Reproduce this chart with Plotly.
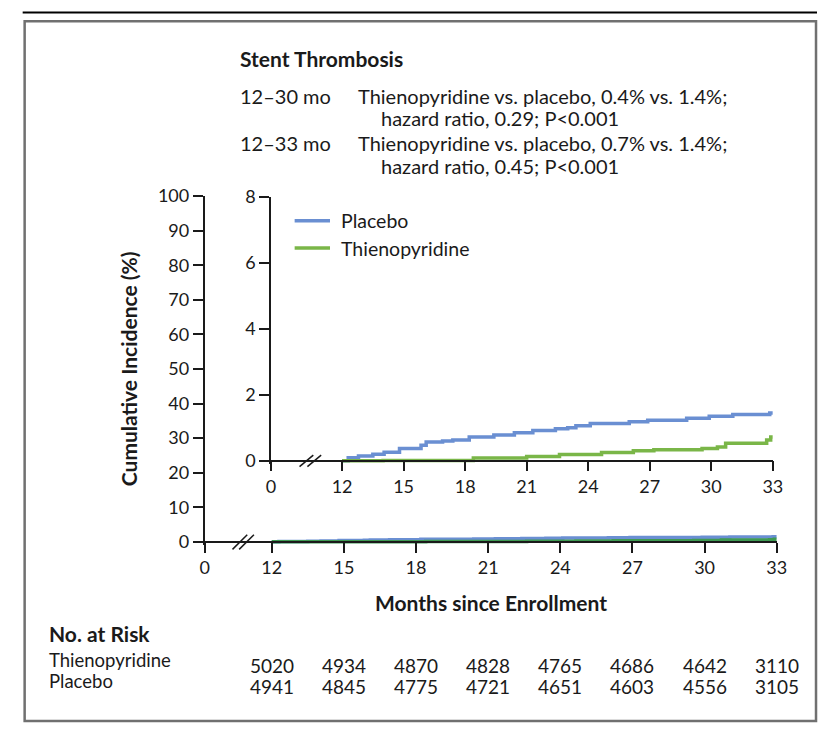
import plotly.graph_objects as go

W, H = 827, 731
FONT = "Lato"

# ---------------- data ----------------
placebo_t = [12.0, 12.3, 12.8, 13.5, 14.05, 14.8, 15.85, 16.1, 16.9, 17.4, 18.2, 19.4, 20.4, 21.3,
             22.4, 23.0, 23.4, 24.1, 26.0, 26.9, 28.8, 29.9, 31.05, 32.85, 33.0]
placebo_v = [0.0, 0.09, 0.14, 0.20, 0.26, 0.37, 0.47, 0.57, 0.60, 0.63, 0.72, 0.78, 0.85, 0.92,
             0.97, 1.00, 1.06, 1.13, 1.18, 1.23, 1.29, 1.35, 1.40, 1.45, 1.45]
thieno_t = [12.0, 14.0, 18.4, 21.0, 22.6, 24.65, 26.2, 27.2, 29.55, 30.3, 30.7, 32.7, 32.9, 33.0]
thieno_v = [0.0, 0.01, 0.08, 0.13, 0.19, 0.25, 0.30, 0.33, 0.37, 0.42, 0.53, 0.63, 0.72, 0.72]

series_names = ["Placebo", "Thienopyridine"]
month_ticks = [12, 15, 18, 21, 24, 27, 30, 33]
risk_thieno = [5020, 4934, 4870, 4828, 4765, 4686, 4642, 3110]
risk_placebo = [4941, 4845, 4775, 4721, 4651, 4603, 4556, 3105]
main_yticks = [0, 10, 20, 30, 40, 50, 60, 70, 80, 90, 100]
inset_yticks = [0, 2, 4, 6, 8]

BLUE = "#6a8fd2"
GREEN = "#7ab648"
GREEN_DARK = "#3e9a52"
INK = "#1a1a1a"


def px(x):
    return x / W


def py(y):
    return 1 - y / H


fig = go.Figure()

# main panel (0-100 scale)
fig.add_trace(go.Scatter(x=placebo_t, y=placebo_v, mode="lines", line=dict(color=BLUE, width=3.5, shape="hv"),
                         xaxis="x", yaxis="y", showlegend=False, hoverinfo="skip"))
fig.add_trace(go.Scatter(x=thieno_t, y=thieno_v, mode="lines", line=dict(color=GREEN_DARK, width=3.5, shape="hv"),
                         xaxis="x", yaxis="y", showlegend=False, hoverinfo="skip"))
# inset (0-8 scale)
fig.add_trace(go.Scatter(x=placebo_t, y=placebo_v, mode="lines", name=series_names[0], showlegend=False,
                         line=dict(color=BLUE, width=3.5, shape="hv"), xaxis="x2", yaxis="y2"))
fig.add_trace(go.Scatter(x=thieno_t, y=thieno_v, mode="lines", name=series_names[1], showlegend=False,
                         line=dict(color=GREEN, width=3.5, shape="hv"), xaxis="x2", yaxis="y2"))

tickfont = dict(family=FONT, size=18, color=INK)

# main axis geometry (pixels)
M_X0, M_X12, M_X33 = 203.3, 271.7, 786.0
m_ppm = (M_X33 - M_X12) / 21
m_zero = 12 - (M_X12 - M_X0) / m_ppm
M_Y0, M_Y100 = 544.0, 189.0
m_ppu = (M_Y0 - M_Y100) / 100
m_ylo = -1.0

# inset geometry
I_X0, I_X12, I_X33 = 271.0, 343.3, 782.0
i_ppm = (I_X33 - I_X12) / 21
i_zero = 12 - (I_X12 - I_X0) / i_ppm
I_Y0, I_Y8 = 460.7, 190.0
i_ppu = (I_Y0 - I_Y8) / 8
i_ylo = -0.1

xt = [m_zero] + month_ticks
xl = ["0"] + [str(m) for m in month_ticks]

axis_common = dict(showline=True, linecolor=INK, linewidth=1.5, ticks="outside", ticklen=10,
                   tickwidth=1.5, tickcolor=INK, showgrid=False, zeroline=False, tickfont=tickfont)

fig.update_layout(
    width=W, height=H, margin=dict(l=0, r=0, t=0, b=0),
    paper_bgcolor="white", plot_bgcolor="rgba(0,0,0,0)",
    font=dict(family=FONT, size=18, color=INK),
    xaxis=dict(domain=[px(M_X0), px(M_X33)], range=[m_zero, 33], anchor="free", position=py(M_Y0),
               tickvals=xt, ticktext=xl, **axis_common),
    yaxis=dict(domain=[py(M_Y0 - m_ylo * m_ppu), py(M_Y100)], range=[m_ylo, 100], anchor="x",
               tickvals=main_yticks, **axis_common),
    xaxis2=dict(domain=[px(I_X0), px(I_X33)], range=[i_zero, 33], anchor="free", position=py(I_Y0),
                tickvals=[i_zero] + month_ticks, ticktext=xl, **axis_common),
    yaxis2=dict(domain=[py(I_Y0 - i_ylo * i_ppu), py(I_Y8)], range=[i_ylo, 8], anchor="x2",
                tickvals=inset_yticks, **axis_common),
    showlegend=False,
)

shapes = []
# outer frame
shapes.append(dict(type="rect", xref="paper", yref="paper", x0=px(20), x1=px(826), y0=py(728), y1=py(9.5),
                   line=dict(color="#707070", width=2.5)))
shapes.append(dict(type="line", xref="paper", yref="paper", x0=px(18), x1=px(827), y0=py(0.5), y1=py(0.5),
                   line=dict(color="#000000", width=2)))
# axis break marks
for (x0, y0, x1, y1) in [(231.7, 551.7, 246.7, 536.7), (238.5, 551.7, 253.5, 536.7),
                         (300.0, 466.7, 314.0, 455.0), (308.0, 466.7, 322.0, 455.0)]:
    shapes.append(dict(type="line", xref="paper", yref="paper", x0=px(x0), x1=px(x1), y0=py(y0), y1=py(y1),
                       line=dict(color=INK, width=1.5)))
# legend swatches
for name, col, yy in zip(series_names, [BLUE, GREEN], [214.3, 242.3]):
    shapes.append(dict(type="line", xref="paper", yref="paper", x0=px(295), x1=px(331), y0=py(yy), y1=py(yy),
                       line=dict(color=col, width=3.5)))
fig.update_layout(shapes=shapes)

ann = []


def text(x, y, s, size=20, bold=False, xanchor="left", angle=0):
    ann.append(dict(xref="paper", yref="paper", x=px(x), y=py(y), text=("<b>%s</b>" % s) if bold else s,
                    showarrow=False, xanchor=xanchor, yanchor="middle", textangle=angle,
                    font=dict(family=FONT, size=size, color=INK)))


for name, yy in zip(series_names, [214.3, 242.3]):
    text(340, yy, name, size=19.5)

text(237, 48, "Stent Thrombosis", size=21, bold=True)
text(237, 86, "12\u201330 mo")
text(357, 86, "Thienopyridine vs. placebo, 0.4% vs. 1.4%;")
text(381, 109, "hazard ratio, 0.29; P<0.001")
text(237, 135, "12\u201333 mo")
text(357, 135, "Thienopyridine vs. placebo, 0.7% vs. 1.4%;")
text(381, 158, "hazard ratio, 0.45; P<0.001")
text(126, 366, "Cumulative Incidence (%)", size=21, bold=True, xanchor="center", angle=-90)
text(495, 606, "Months since Enrollment", size=21, bold=True, xanchor="center")
text(43, 638, "No. at Risk", size=21, bold=True)
text(43, 665, "Thienopyridine", size=18.5)
text(43, 687, "Placebo", size=18.5)

for m, a, b in zip(month_ticks, risk_thieno, risk_placebo):
    for yy, v in ((671, a), (693, b)):
        ann.append(dict(xref="x", yref="paper", x=m, y=py(yy), text=str(v), showarrow=False,
                        xanchor="center", yanchor="middle", font=dict(family=FONT, size=19, color=INK)))

fig.update_layout(annotations=ann)
fig.write_html("out.html")
